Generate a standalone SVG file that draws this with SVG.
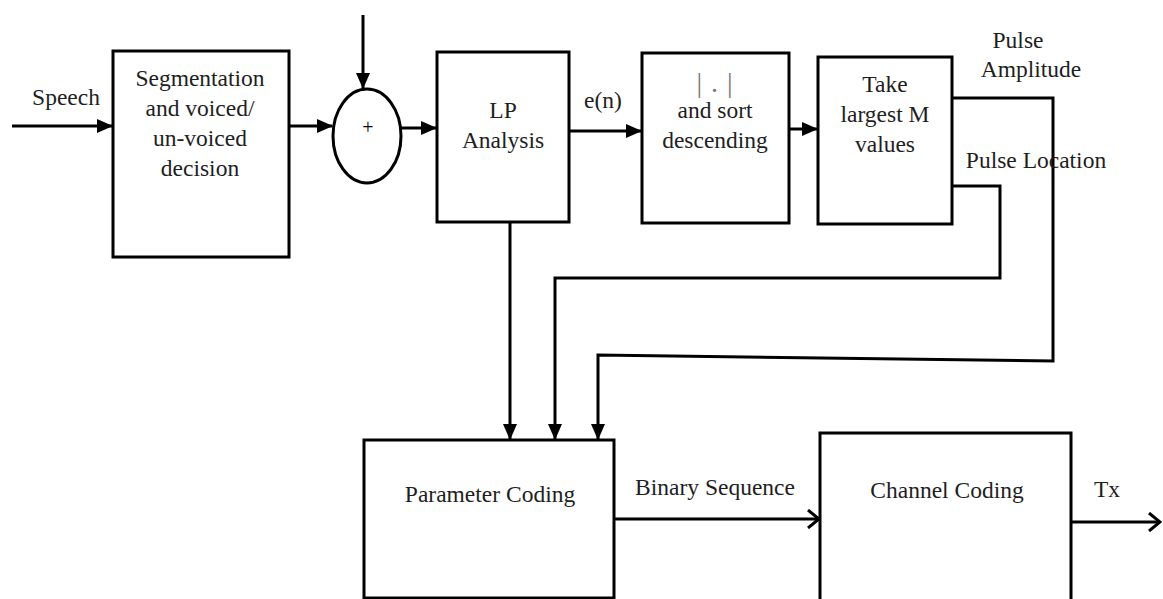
<svg xmlns="http://www.w3.org/2000/svg" width="1163" height="599" viewBox="0 0 1163 599">
<style>
.box{fill:#fff;stroke:#000;stroke-width:3}
.ln{fill:none;stroke:#000;stroke-width:3}
text{font-family:"Liberation Serif","Times New Roman",serif;font-size:23.5px;fill:#1e1e1e;text-anchor:middle}
</style>
<defs>
<marker id="ah" markerUnits="userSpaceOnUse" markerWidth="16" markerHeight="14" refX="15" refY="7" orient="auto">
<path d="M0,0 L16,7 L0,14 z" fill="#000"/>
</marker>
<marker id="oa" markerUnits="userSpaceOnUse" markerWidth="14" markerHeight="20" refX="12" refY="10" orient="auto">
<path d="M1,1 L12,10 L1,19" fill="none" stroke="#000" stroke-width="3"/>
</marker>
</defs>
<rect width="1163" height="599" fill="#fff"/>
<g id="connectors">
<line class="ln" x1="12" y1="126" x2="112" y2="126" marker-end="url(#ah)"/>
<line class="ln" x1="363" y1="15" x2="363" y2="88" marker-end="url(#ah)"/>
<line class="ln" x1="289" y1="126" x2="332" y2="126" marker-end="url(#ah)"/>
<line class="ln" x1="401" y1="128" x2="436" y2="128" marker-end="url(#ah)"/>
<line class="ln" x1="569" y1="131" x2="641" y2="131" marker-end="url(#ah)"/>
<line class="ln" x1="789" y1="129" x2="817" y2="129" marker-end="url(#ah)"/>
<line class="ln" x1="510" y1="222" x2="510" y2="439" marker-end="url(#ah)"/>
<polyline class="ln" points="952,186 1000,186 1000,278 555,278 555,439" marker-end="url(#ah)"/>
<polyline class="ln" points="952,98 1053,98 1053,361 598,355 598,439" marker-end="url(#ah)"/>
<line class="ln" x1="614" y1="519" x2="819" y2="519" marker-end="url(#oa)"/>
<line class="ln" x1="1071" y1="522" x2="1160" y2="522" marker-end="url(#oa)"/>
<text x="66" y="105">Speech</text>
<text x="603" y="108">e(n)</text>
<text x="1018" y="48">Pulse</text>
<text x="1031" y="77">Amplitude</text>
<text x="1036" y="168">Pulse Location</text>
<text x="715" y="495">Binary Sequence</text>
<text x="1107" y="497">Tx</text>
</g>
<g id="segmentation">
<rect class="box" x="113" y="51" width="176" height="206"/>
<text x="200" y="86">Segmentation</text>
<text x="200" y="116">and voiced/</text>
<text x="200" y="146">un-voiced</text>
<text x="200" y="176">decision</text>
</g>
<g id="sum">
<ellipse class="box" cx="367" cy="136" rx="34" ry="47"/>
<text x="368" y="134" style="font-size:20px;fill:#000">+</text>
</g>
<g id="lp">
<rect class="box" x="437" y="52" width="132" height="170"/>
<text x="503" y="118">LP</text>
<text x="503" y="148">Analysis</text>
</g>
<g id="sort">
<rect class="box" x="642" y="53" width="147" height="170"/>
<text x="715" y="92" style="fill:#777;font-size:28px;letter-spacing:1px">| . |</text>
<text x="715" y="118">and sort</text>
<text x="715" y="148">descending</text>
</g>
<g id="take">
<rect class="box" x="818" y="57" width="134" height="167"/>
<text x="885" y="92">Take</text>
<text x="885" y="122">largest M</text>
<text x="885" y="152">values</text>
</g>
<g id="param">
<rect class="box" x="364" y="440" width="250" height="158"/>
<text x="490" y="502">Parameter Coding</text>
</g>
<g id="channel">
<rect class="box" x="820" y="433" width="251" height="180"/>
<text x="947" y="498">Channel Coding</text>
</g>
</svg>
